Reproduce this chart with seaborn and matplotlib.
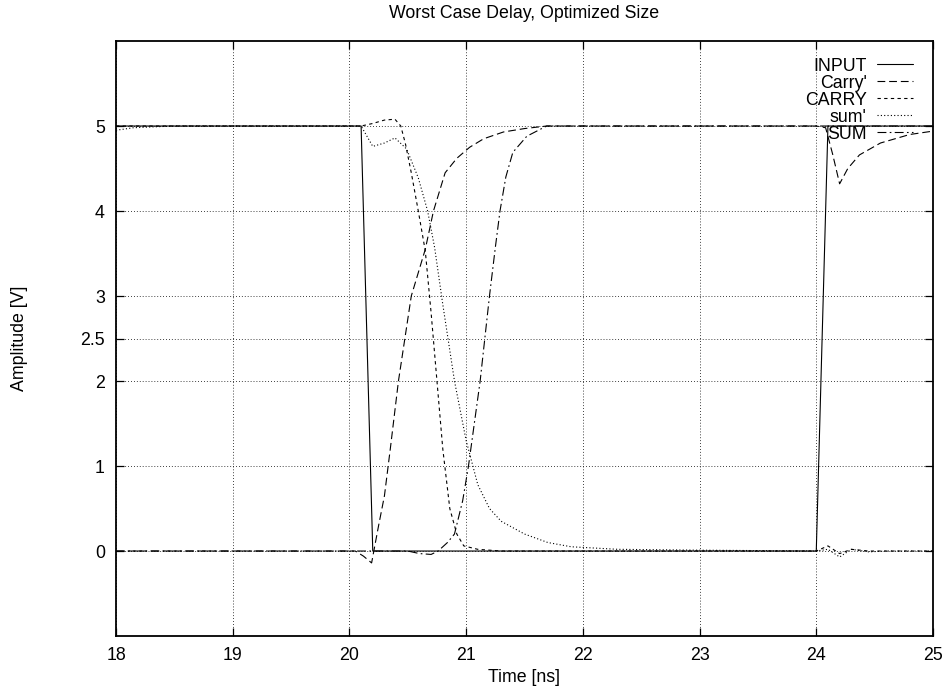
import matplotlib
matplotlib.use("Agg")
import matplotlib.pyplot as plt
import seaborn as sns
import pandas as pd

# Simulated adder waveforms (time in ns, amplitude in V)
t_input = [18.0, 20.1, 20.2, 24.0, 24.1, 25.0]
v_input = [5, 5, 0, 0, 5, 5]

t_carry_n = [18.0, 20.05, 20.12, 20.19, 20.25, 20.3, 20.35, 20.42, 20.53, 20.65,
             20.72, 20.82, 20.92, 21.03, 21.15, 21.32, 21.5, 21.69, 24.0, 24.08,
             24.14, 24.2, 24.27, 24.37, 24.55, 24.8, 25.0]
v_carry_n = [0, 0, -0.06, -0.14, 0.3, 0.65, 1.2, 2.0, 3.0, 3.55,
             4.0, 4.45, 4.62, 4.75, 4.85, 4.93, 4.97, 5.0, 5.0, 4.98,
             4.67, 4.32, 4.5, 4.66, 4.8, 4.9, 4.94]

t_carry = [18.0, 20.1, 20.2, 20.3, 20.39, 20.44, 20.48, 20.53, 20.59, 20.65,
           20.7, 20.75, 20.8, 20.86, 20.92, 20.98, 21.1, 21.3, 24.0, 24.1,
           24.2, 24.3, 24.45, 25.0]
v_carry = [5, 5, 5.03, 5.07, 5.08, 5.0, 4.79, 4.45, 4.0, 3.53,
           2.8, 2.0, 1.2, 0.5, 0.2, 0.06, 0.02, 0.0, 0.0, 0.06,
           -0.03, 0.02, 0.0, 0.0]

t_sum_n = [18.0, 18.15, 18.5, 20.1, 20.2, 20.3, 20.39, 20.49, 20.59, 20.67,
           20.73, 20.8, 20.9, 21.0, 21.1, 21.2, 21.3, 21.5, 21.7, 21.9,
           22.3, 23.0, 24.0, 24.1, 24.2, 24.3, 24.45, 24.6, 25.0]
v_sum_n = [4.95, 4.98, 5.0, 5.0, 4.76, 4.8, 4.86, 4.73, 4.39, 4.0,
           3.57, 2.9, 2.0, 1.3, 0.78, 0.5, 0.35, 0.2, 0.1, 0.05,
           0.02, 0.01, 0.0, 0.02, -0.07, 0.02, -0.01, 0.0, 0.0]

t_sum = [18.0, 20.5, 20.6, 20.7, 20.76, 20.84, 20.9, 20.97, 21.02, 21.12,
         21.2, 21.25, 21.29, 21.34, 21.4, 21.52, 21.69, 22.0, 25.0]
v_sum = [0, 0, -0.03, -0.04, 0.0, 0.1, 0.2, 0.59, 1.0, 2.0,
         3.0, 3.57, 4.0, 4.4, 4.69, 4.88, 5.0, 5.0, 5.0]

x_ticks = [18, 19, 20, 21, 22, 23, 24, 25]
y_ticks = [0, 1, 2, 2.5, 3, 4, 5]
y_tick_labels = ["0", "1", "2", "2.5", "3", "4", "5"]

series = [
    ("INPUT", t_input, v_input, "-"),
    ("Carry'", t_carry_n, v_carry_n, (0, (7, 3.5))),
    ("CARRY", t_carry, v_carry, (0, (3, 3))),
    ("sum'", t_sum_n, v_sum_n, (0, (1, 2))),
    ("SUM", t_sum, v_sum, (0, (8, 3, 1.5, 3))),
]

sns.set_style("ticks")
plt.rcParams["font.family"] = ["Liberation Sans", "DejaVu Sans"]
FS = 12.8
plt.rcParams["font.size"] = FS
plt.rcParams["text.color"] = "black"
plt.rcParams["axes.labelcolor"] = "black"

fig = plt.figure(figsize=(9.47, 6.87), dpi=100)
ax = fig.add_axes([0.1225, 0.0742, 0.8627, 0.8661])

for name, t, v, ls in series:
    df = pd.DataFrame({"t": t, "v": v})
    sns.lineplot(data=df, x="t", y="v", ax=ax, color="black", linewidth=0.8,
                 linestyle=ls, estimator=None, sort=False, label=name)

ax.set_xlim(18, 25)
ax.set_ylim(-1, 6)
ax.set_xticks(x_ticks)
ax.set_yticks(y_ticks)
ax.set_yticklabels(y_tick_labels)
ax.grid(True, color="black", linestyle=(0, (1, 2.5)), linewidth=0.6)
ax.set_axisbelow(True)

for s in ax.spines.values():
    s.set_visible(True)
    s.set_linewidth(1.3)
    s.set_color("black")
ax.tick_params(direction="in", length=6, width=0.9, top=True, right=True,
               labelsize=FS, colors="black", pad=8)

ax.set_title("Worst Case Delay, Optimized Size", fontsize=FS, pad=16.5,
             color="black")
ax.set_xlabel("Time [ns]", fontsize=FS, color="black")
ax.set_ylabel("Amplitude [V]", fontsize=FS, color="black")
ax.xaxis.set_label_coords(0.5, -0.055)
ax.yaxis.set_label_coords(-0.108, 0.5)

leg = ax.legend(loc="upper right", bbox_to_anchor=(0.9755, 0.972),
                frameon=False, markerfirst=False, borderaxespad=0, borderpad=0,
                handlelength=2.0, handletextpad=0.6, labelspacing=0.0,
                fontsize=FS, labelcolor="black")

fig.savefig("out.png", dpi=100)
